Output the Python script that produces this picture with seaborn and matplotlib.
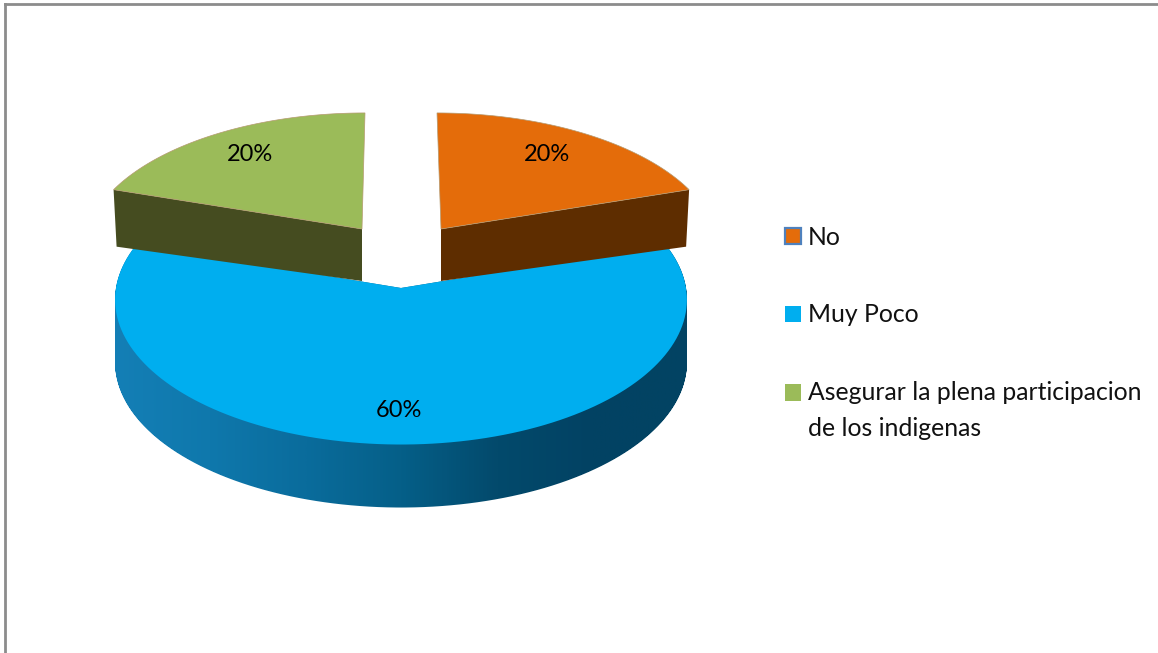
# pastel_3d.py
import numpy as np
import matplotlib
matplotlib.use("Agg")
import matplotlib.pyplot as plt
import seaborn as sns
from matplotlib.colors import LinearSegmentedColormap
from matplotlib.patches import Patch, PathPatch, Polygon
from matplotlib.path import Path

# Data
categories = ["No", "Muy Poco", "Asegurar la plena participacion\nde los indigenas"]
shares = [20, 60, 20]

# Colours
top_colors = sns.color_palette(["#E46C0A", "#00AEEF", "#9BBB59"])
wall_colors = ["#5E2D00", None, "#454C20"]
wall_ramp = ["#147FB6", "#0F78AC", "#0A6C9C", "#055F88", "#034A6C", "#024263", "#024463"]

sns.set_theme(style="white")
plt.rcParams["font.family"] = ["Lato", "DejaVu Sans"]

W, H = 1158, 653
fig = plt.figure(figsize=(W / 100, H / 100), dpi=100)
ax = fig.add_axes([5 / W, 0, (W - 5) / W, (H - 4) / H])

wedges, _, pct = ax.pie(shares, startangle=90, counterclock=False, radius=1000,
                        autopct="%1.0f%%", textprops={"fontsize": 17, "color": "black"})

# pie forces equal aspect and its own limits, switch to picture pixels
ax.set_aspect("auto")

# where each slice sits: tip x, tip y, x radius, y radius, tilt, shear
layout = [(441, 229, 274, 133, 0.146, -4),
          (401, 288, 285, 144, 0.08, 0),
          (362, 229, 274, 133, 0.146, 3)]
label_xy = [(547, 155), (399, 411), (250, 155)]
BLUE_DEPTH = 63
TIP_DEPTH, CORNER_DEPTH, CORNER_INSET = 52, 57, 3


def tilted(wedge, cx, cy, rx, ry, k, shear):
    # far side of the pie gets shorter
    uv = wedge.get_path().to_polygons()[0] / 1000
    w = 1 + k * uv[:, 1]
    return np.column_stack([cx + rx * uv[:, 0] / w + shear * uv[:, 1], cy - ry * uv[:, 1] / w])


def swept(pts, depth):
    return Path.make_compound_path(*[Path(pts + [0, d]) for d in np.arange(0, depth + 1)])


def front_wall(pts, tip_x, tip_y):
    # visible side of an exploded slice, from its tip to the outer corner
    corner = pts[np.argmax(np.abs(pts[:, 0] - tip_x))]
    inset = CORNER_INSET if corner[0] > tip_x else -CORNER_INSET
    return [(tip_x, tip_y), corner, (corner[0] - inset, corner[1] + CORNER_DEPTH),
            (tip_x, tip_y + TIP_DEPTH)]


shapes = [tilted(w, *spec) for w, spec in zip(wedges, layout)]
for w in wedges:
    w.set_visible(False)

# blue slice first, the two exploded ones sit on top of it
ramp = LinearSegmentedColormap.from_list("wall", wall_ramp)
grad = ax.imshow(np.linspace(0, 1, 600)[None, :], cmap=ramp, aspect="auto",
                 extent=(113, 690, 520, 240), zorder=1)
grad.set_clip_path(PathPatch(swept(shapes[1], BLUE_DEPTH), transform=ax.transData))
ax.add_patch(Polygon(shapes[1], fc=top_colors[1], ec="none", zorder=2))

for i in (0, 2):
    ax.add_patch(Polygon(front_wall(shapes[i], *layout[i][:2]), fc=wall_colors[i], ec="none", zorder=3))
    ax.add_patch(Polygon(shapes[i], fc=top_colors[i], ec="#B59A70", lw=0.5, zorder=4))

for t, xy in zip(pct, label_xy):
    t.set_position(xy)
    t.set_ha("center")
    t.set_va("center")
    t.set_zorder(6)

ax.set_xlim(5, W)
ax.set_ylim(H, 4)
ax.set_xticks([])
ax.set_yticks([])

# Legend
handles = [Patch(fc=top_colors[0], ec="#4F81BD", lw=1.6),
           Patch(fc=top_colors[1], ec="none"),
           Patch(fc=top_colors[2], ec="none")]
leg = ax.legend(handles, categories, loc="upper left", bbox_to_anchor=(785, 226),
                bbox_transform=ax.transData, frameon=False, fontsize=17.8, borderpad=0,
                borderaxespad=0, handlelength=0.63, handleheight=0.63, handletextpad=0.3,
                labelspacing=2.2, labelcolor="#111111")
for t in leg.get_texts():
    t.set_linespacing(1.68)
# two-line label: swatch goes next to the first line, not between the lines
leg.legend_handles[2].set_y(leg.legend_handles[2].get_y() + 13.3)

# Frame: only the top and left edges show
ax.set_frame_on(True)
sns.despine(ax=ax, top=False, left=False, right=True, bottom=True)
for side in ("top", "left"):
    ax.spines[side].set_visible(True)
    ax.spines[side].set_color("#8C8C8C")
    ax.spines[side].set_linewidth(2)

fig.savefig("out.png", dpi=100, facecolor="white")
